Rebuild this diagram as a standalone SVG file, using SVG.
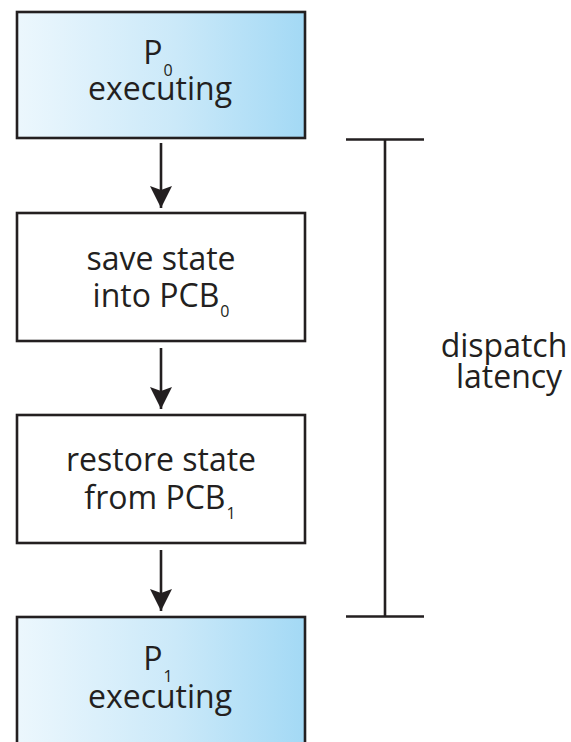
<svg xmlns="http://www.w3.org/2000/svg" width="571" height="742" viewBox="0 0 571 742">
  <defs>
    <linearGradient id="procFill" x1="0" y1="0" x2="1" y2="0">
      <stop offset="0" stop-color="#ecf7fd"/>
      <stop offset="0.55" stop-color="#cbe9f9"/>
      <stop offset="1" stop-color="#a3d9f5"/>
    </linearGradient>
    <marker id="arrowHead" markerUnits="userSpaceOnUse" markerWidth="24" markerHeight="24" refX="22" refY="11" orient="auto">
      <path d="M0,0 L22,11 L0,22 L4,11 Z" fill="#231f20"/>
    </marker>
    <style>
      .box { stroke: #231f20; stroke-width: 2.6; }
      .plain { fill: #ffffff; }
      .proc { fill: url(#procFill); }
      .label { font-family: "Open Sans", "Noto Sans", sans-serif; font-size: 32px; fill: #231f20; text-anchor: middle; }
      .sub { font-size: 16px; }
      .edge { stroke: #231f20; stroke-width: 2.6; fill: none; }
    </style>
  </defs>
  <rect width="571" height="742" fill="#ffffff"/>

  <g id="p0-executing">
    <rect class="box proc" x="17" y="12" width="288" height="126"/>
    <text class="label" x="158" y="64">P<tspan class="sub" dx="1" dy="12">0</tspan></text>
    <text class="label" x="160" y="100">executing</text>
  </g>

  <g id="save-state">
    <rect class="box plain" x="17" y="213" width="288" height="128"/>
    <text class="label" x="161" y="270">save state</text>
    <text class="label" x="161" y="307">into PCB<tspan class="sub" dx="1" dy="10">0</tspan></text>
  </g>

  <g id="restore-state">
    <rect class="box plain" x="17" y="415" width="288" height="128"/>
    <text class="label" x="161" y="471">restore state</text>
    <text class="label" x="160" y="509">from PCB<tspan class="sub" dx="1" dy="10">1</tspan></text>
  </g>

  <g id="p1-executing">
    <rect class="box proc" x="17" y="617" width="288" height="130"/>
    <text class="label" x="158" y="670">P<tspan class="sub" dx="1" dy="12">1</tspan></text>
    <text class="label" x="160" y="708">executing</text>
  </g>

  <g id="dispatch-latency">
    <path class="edge" d="M346,139.5 H424 M385,139.5 V616.5 M346,616.5 H424"/>
    <text class="label" x="504" y="357">dispatch</text>
    <text class="label" x="509" y="388">latency</text>
  </g>

  <g id="connectors">
    <line class="edge" x1="161" y1="143" x2="161" y2="208" marker-end="url(#arrowHead)"/>
    <line class="edge" x1="161" y1="348" x2="161" y2="409" marker-end="url(#arrowHead)"/>
    <line class="edge" x1="161" y1="550" x2="161" y2="611" marker-end="url(#arrowHead)"/>
  </g>
</svg>
